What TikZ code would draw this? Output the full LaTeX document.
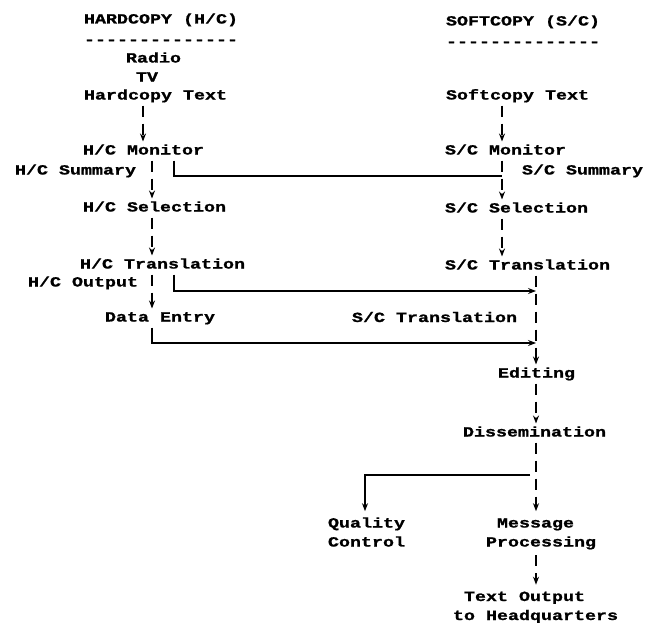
\documentclass[tikz,border=0pt]{standalone}
\usepackage{fontspec}
\usetikzlibrary{arrows.meta}
% wide typewriter face
\newfontfamily\twfont[FakeStretch=1.31,FakeBold=1.2]{Liberation Mono}

\tikzset{
  lbl/.style={anchor=base west, inner sep=0pt, outer sep=3pt,
    text height=10pt, text depth=3pt,
    font=\twfont\bfseries\fontsize{14}{19}\selectfont},
  lblm/.style={anchor=base west, inner sep=0pt, outer sep=3pt,
    font=\twfont\bfseries\fontsize{14}{19}\selectfont},
  tick/.style={line width=1.3pt, dash pattern=on 11pt off 7pt,
    -{Stealth[length=8pt,width=6pt]}},
  rule/.style={line width=1.1pt},
  ruletip/.style={rule, -{Stealth[length=8pt,width=6pt]}}
}

\begin{document}
\begin{tikzpicture}[x=1pt,y=-1pt]
\useasboundingbox (0,0) rectangle (645,626);

% column positions of the connectors
\coordinate (xa) at (143,0);
\coordinate (xb) at (152,0);
\coordinate (xc) at (174,0);
\coordinate (xd) at (502,0);
\coordinate (xe) at (536,0);
\coordinate (xq) at (365,0);

% hardcopy column
\node[lbl] (hhead)  at (81,23.5)  {HARDCOPY (H/C)};
\node[lbl] (hdash)  at (81,44)    {--------------};
\node[lbl] (radio)  at (123,62.5) {Radio};
\node[lbl] (tv)     at (133,81.5) {TV};
\node[lbl] (htext)  at (81,99.5)  {Hardcopy Text};
\node[lbl] (hmon)   at (80,154.5) {H/C Monitor};
\node[lbl] (hsum)   at (12,174.5) {H/C Summary};
\node[lbl] (hsel)   at (80,211.5) {H/C Selection};
\node[lbl] (htrans) at (77,268.5) {H/C Translation};
\node[lbl] (hout)   at (25,286.5) {H/C Output};
\node[lbl] (dentry) at (102,321.5){Data Entry};

% softcopy column
\node[lbl] (shead)  at (443,25.5) {SOFTCOPY (S/C)};
\node[lbl] (sdash)  at (443,46)   {--------------};
\node[lbl] (stext)  at (443,99.5) {Softcopy Text};
\node[lbl] (smon)   at (442,154.5){S/C Monitor};
\node[lbl] (ssum)   at (519,174.5){S/C Summary};
\node[lbl] (ssel)   at (442,212.5){S/C Selection};
\node[lbl] (strans) at (442,269.5){S/C Translation};
\node[lbl] (strans2) at (349,322) {S/C Translation};

% common path
\node[lbl] (edit)   at (495,377.5){Editing};
\node[lbl] (dissem) at (460,436.5){Dissemination};
\node[lblm] (quality) at (325,527.5)
  {\begin{tabular}[t]{@{}l@{}}Quality\\Control\end{tabular}};
\node[lblm] (message) at (483,527.5)
  {\begin{tabular}[t]{@{}l@{}}\ Message\\Processing\end{tabular}};
\node[lblm] (textout) at (450,601)
  {\begin{tabular}[t]{@{}l@{}}\ Text Output\\to Headquarters\end{tabular}};

% junction points
\coordinate (j1) at (502,176);
\coordinate (j2) at (536,291);
\coordinate (j3) at (536,343);
\coordinate (jb) at (530,475);

% hardcopy flow
\draw[tick] (htext.south -| xa) -- (hmon.north -| xa);
\draw[tick] (hmon.south -| xb) -- (hsel.north -| xb);
\draw[rule] (hmon.south -| xc) |- (j1);
\draw[tick] (hsel.south -| xb) -- (htrans.north -| xb);
\draw[tick] (htrans.south -| xb) -- (dentry.north -| xb);
\draw[ruletip] (htrans.south -| xc) |- (j2);
\draw[ruletip] (dentry.south -| xb) |- (j3);

% softcopy flow
\draw[tick] (stext.south -| xd) -- (smon.north -| xd);
\draw[tick] (smon.south -| xd) -- (ssel.north -| xd);
\draw[tick] (ssel.south -| xd) -- (strans.north -| xd);
\draw[tick] (strans.south -| xe) -- (edit.north -| xe);

% editing onwards
\draw[tick] (edit.south -| xe) -- (dissem.north -| xe);
\draw[tick] (dissem.south -| xe) -- (message.north -| xe);
\draw[ruletip] (jb) -| (quality.north -| xq);
\draw[tick] (message.south -| xe) -- (textout.north -| xe);
\end{tikzpicture}
\end{document}
